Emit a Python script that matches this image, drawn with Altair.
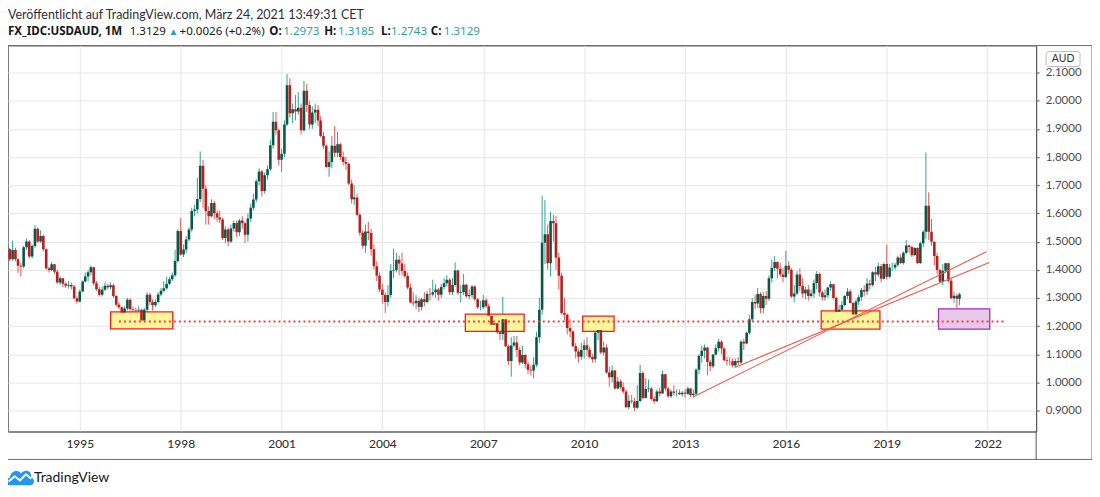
import altair as alt
import pandas as pd

# ---------------- data (monthly USD/AUD candles, Dec 1992 - Mar 2021) ----------------
first_open = 1.473
close = [
    1.437,
    1.470, 1.437, 1.414, 1.411, 1.480, 1.500, 1.447, 1.484, 1.545, 1.500, 1.520, 1.473,  # 1993
    1.405, 1.399, 1.419, 1.393, 1.355, 1.370, 1.350, 1.343, 1.346, 1.340, 1.299, 1.287,  # 1994
    1.323, 1.358, 1.376, 1.391, 1.409, 1.352, 1.331, 1.311, 1.329, 1.343, 1.338, 1.345,  # 1995
    1.307, 1.276, 1.267, 1.248, 1.262, 1.293, 1.260, 1.257, 1.255, 1.258, 1.220, 1.258,  # 1996
    1.311, 1.285, 1.274, 1.285, 1.312, 1.325, 1.334, 1.350, 1.366, 1.380, 1.431, 1.537,  # 1997
    1.454, 1.472, 1.507, 1.543, 1.608, 1.614, 1.651, 1.769, 1.687, 1.608, 1.590, 1.637,  # 1998
    1.600, 1.585, 1.578, 1.513, 1.543, 1.500, 1.546, 1.566, 1.533, 1.575, 1.565, 1.524,  # 1999
    1.582, 1.620, 1.649, 1.714, 1.749, 1.679, 1.735, 1.757, 1.842, 1.925, 1.895, 1.790,  # 2000
    1.812, 1.915, 2.055, 1.955, 1.970, 1.962, 1.975, 1.895, 2.035, 1.985, 1.915, 1.958,  # 2001
    1.968, 1.930, 1.875, 1.840, 1.765, 1.782, 1.840, 1.815, 1.845, 1.800, 1.782, 1.776,  # 2002
    1.706, 1.650, 1.656, 1.595, 1.531, 1.485, 1.536, 1.530, 1.473, 1.412, 1.379, 1.330,  # 2003
    1.310, 1.285, 1.310, 1.396, 1.399, 1.435, 1.422, 1.395, 1.378, 1.337, 1.284, 1.281,  # 2004
    1.290, 1.268, 1.295, 1.285, 1.314, 1.312, 1.320, 1.330, 1.311, 1.339, 1.352, 1.364,  # 2005
    1.320, 1.346, 1.397, 1.318, 1.321, 1.347, 1.306, 1.310, 1.340, 1.295, 1.267, 1.267,  # 2006
    1.292, 1.270, 1.237, 1.205, 1.210, 1.178, 1.172, 1.224, 1.128, 1.076, 1.131, 1.142,  # 2007
    1.115, 1.071, 1.097, 1.064, 1.045, 1.042, 1.063, 1.160, 1.258, 1.496, 1.526, 1.423,  # 2008
    1.573, 1.565, 1.443, 1.379, 1.246, 1.240, 1.193, 1.181, 1.128, 1.110, 1.091, 1.115,  # 2009
    1.132, 1.116, 1.090, 1.082, 1.176, 1.186, 1.106, 1.124, 1.035, 1.018, 1.042, 0.978,  # 2010
    1.003, 0.983, 0.968, 0.912, 0.935, 0.932, 0.910, 0.934, 1.033, 0.945, 0.977, 0.978,  # 2011
    0.941, 0.933, 0.968, 0.961, 1.029, 0.978, 0.951, 0.968, 0.963, 0.963, 0.958, 0.963,  # 2012
    0.960, 0.978, 0.955, 0.960, 1.045, 1.094, 1.112, 1.124, 1.072, 1.057, 1.099, 1.121,  # 2013
    1.144, 1.120, 1.079, 1.076, 1.075, 1.060, 1.076, 1.071, 1.144, 1.138, 1.176, 1.224,  # 2014
    1.285, 1.280, 1.314, 1.263, 1.307, 1.297, 1.370, 1.406, 1.427, 1.403, 1.383, 1.374,  # 2015
    1.414, 1.400, 1.305, 1.316, 1.383, 1.342, 1.316, 1.330, 1.307, 1.316, 1.353, 1.385,  # 2016
    1.319, 1.302, 1.309, 1.337, 1.348, 1.300, 1.251, 1.258, 1.275, 1.307, 1.323, 1.282,  # 2017
    1.241, 1.287, 1.302, 1.328, 1.323, 1.351, 1.346, 1.391, 1.383, 1.412, 1.368, 1.420,  # 2018
    1.375, 1.408, 1.408, 1.418, 1.443, 1.424, 1.460, 1.486, 1.481, 1.451, 1.477, 1.424,  # 2019
    1.494, 1.535, 1.627, 1.535, 1.499, 1.449, 1.399, 1.357, 1.396, 1.423, 1.361, 1.299,  # 2020
    1.308, 1.2973, 1.3129,                                                               # 2021
]
high = [
    1.478,
    1.503, 1.478, 1.440, 1.425, 1.485, 1.510, 1.505, 1.490, 1.559, 1.550, 1.540, 1.525,
    1.475, 1.410, 1.428, 1.420, 1.400, 1.378, 1.372, 1.355, 1.360, 1.355, 1.345, 1.305,
    1.330, 1.362, 1.390, 1.398, 1.415, 1.410, 1.360, 1.340, 1.340, 1.355, 1.350, 1.355,
    1.350, 1.310, 1.285, 1.270, 1.270, 1.300, 1.298, 1.268, 1.265, 1.270, 1.262, 1.265,
    1.320, 1.318, 1.295, 1.295, 1.320, 1.335, 1.360, 1.375, 1.375, 1.390, 1.470, 1.545,
    1.584, 1.490, 1.520, 1.550, 1.620, 1.630, 1.726, 1.820, 1.790, 1.700, 1.625, 1.650,
    1.645, 1.610, 1.610, 1.585, 1.555, 1.550, 1.560, 1.575, 1.575, 1.580, 1.590, 1.570,
    1.600, 1.635, 1.670, 1.720, 1.760, 1.755, 1.745, 1.770, 1.860, 1.960, 1.960, 1.900,
    1.830, 1.930, 2.095, 2.080, 1.990, 2.020, 2.030, 1.990, 2.070, 2.060, 2.000, 1.980,
    1.990, 1.985, 1.945, 1.890, 1.845, 1.820, 1.875, 1.910, 1.890, 1.850, 1.820, 1.800,
    1.780, 1.720, 1.700, 1.670, 1.600, 1.540, 1.560, 1.570, 1.545, 1.490, 1.430, 1.390,
    1.350, 1.320, 1.345, 1.420, 1.475, 1.460, 1.450, 1.460, 1.420, 1.390, 1.350, 1.320,
    1.310, 1.300, 1.300, 1.320, 1.325, 1.335, 1.365, 1.350, 1.335, 1.350, 1.370, 1.380,
    1.370, 1.370, 1.426, 1.400, 1.345, 1.385, 1.350, 1.330, 1.345, 1.345, 1.300, 1.290,
    1.310, 1.300, 1.280, 1.240, 1.230, 1.220, 1.190, 1.303, 1.230, 1.135, 1.160, 1.165,
    1.165, 1.125, 1.130, 1.100, 1.075, 1.060, 1.090, 1.180, 1.300, 1.663, 1.647, 1.560,
    1.606, 1.594, 1.590, 1.460, 1.390, 1.300, 1.245, 1.225, 1.185, 1.140, 1.120, 1.140,
    1.150, 1.160, 1.125, 1.100, 1.234, 1.225, 1.190, 1.145, 1.135, 1.055, 1.060, 1.045,
    1.020, 1.010, 1.000, 0.975, 0.955, 0.955, 0.945, 0.990, 1.063, 1.040, 1.015, 1.010,
    0.985, 0.950, 0.975, 0.980, 1.042, 1.030, 0.985, 0.975, 0.990, 0.975, 0.975, 0.970,
    0.975, 0.985, 0.980, 0.975, 1.050, 1.100, 1.130, 1.135, 1.125, 1.080, 1.100, 1.135,
    1.155, 1.150, 1.125, 1.090, 1.090, 1.085, 1.085, 1.090, 1.150, 1.155, 1.180, 1.240,
    1.300, 1.310, 1.335, 1.320, 1.320, 1.325, 1.380, 1.436, 1.448, 1.430, 1.425, 1.405,
    1.467, 1.430, 1.405, 1.345, 1.395, 1.405, 1.370, 1.340, 1.345, 1.330, 1.365, 1.395,
    1.390, 1.325, 1.330, 1.340, 1.360, 1.350, 1.305, 1.275, 1.290, 1.310, 1.335, 1.330,
    1.285, 1.295, 1.310, 1.335, 1.345, 1.370, 1.365, 1.395, 1.410, 1.425, 1.420, 1.425,
    1.489, 1.420, 1.425, 1.425, 1.450, 1.455, 1.465, 1.505, 1.490, 1.485, 1.480, 1.480,
    1.500, 1.540, 1.816, 1.675, 1.580, 1.500, 1.460, 1.405, 1.420, 1.425, 1.425, 1.370,
    1.322, 1.316, 1.3185,
]
low = [
    1.430,
    1.432, 1.430, 1.388, 1.376, 1.405, 1.470, 1.440, 1.440, 1.478, 1.495, 1.495, 1.465,
    1.400, 1.390, 1.395, 1.385, 1.350, 1.345, 1.338, 1.335, 1.333, 1.330, 1.295, 1.280,
    1.283, 1.320, 1.355, 1.360, 1.380, 1.345, 1.325, 1.305, 1.305, 1.325, 1.330, 1.330,
    1.300, 1.270, 1.260, 1.240, 1.242, 1.255, 1.255, 1.248, 1.245, 1.240, 1.205, 1.215,
    1.250, 1.275, 1.255, 1.268, 1.280, 1.305, 1.320, 1.330, 1.345, 1.360, 1.375, 1.425,
    1.450, 1.445, 1.460, 1.500, 1.535, 1.590, 1.600, 1.640, 1.620, 1.560, 1.560, 1.585,
    1.580, 1.570, 1.565, 1.505, 1.495, 1.484, 1.495, 1.535, 1.515, 1.520, 1.545, 1.495,
    1.500, 1.570, 1.610, 1.640, 1.700, 1.660, 1.670, 1.720, 1.750, 1.830, 1.880, 1.770,
    1.747, 1.800, 1.910, 1.940, 1.920, 1.930, 1.950, 1.880, 1.890, 1.960, 1.900, 1.900,
    1.920, 1.910, 1.870, 1.830, 1.760, 1.730, 1.760, 1.800, 1.800, 1.790, 1.770, 1.755,
    1.700, 1.635, 1.630, 1.590, 1.520, 1.475, 1.460, 1.505, 1.450, 1.400, 1.360, 1.320,
    1.280, 1.246, 1.270, 1.300, 1.370, 1.390, 1.380, 1.380, 1.370, 1.330, 1.280, 1.270,
    1.260, 1.250, 1.255, 1.270, 1.280, 1.290, 1.305, 1.300, 1.290, 1.300, 1.330, 1.340,
    1.310, 1.310, 1.340, 1.310, 1.284, 1.310, 1.300, 1.295, 1.300, 1.290, 1.260, 1.255,
    1.260, 1.265, 1.235, 1.200, 1.195, 1.172, 1.150, 1.150, 1.125, 1.062, 1.020, 1.125,
    1.090, 1.060, 1.065, 1.050, 1.030, 1.025, 1.015, 1.055, 1.140, 1.240, 1.420, 1.400,
    1.376, 1.500, 1.400, 1.330, 1.240, 1.220, 1.170, 1.160, 1.125, 1.085, 1.070, 1.080,
    1.085, 1.095, 1.085, 1.070, 1.070, 1.150, 1.100, 1.095, 1.030, 0.985, 1.000, 0.975,
    0.975, 0.975, 0.960, 0.910, 0.905, 0.925, 0.898, 0.905, 0.930, 0.940, 0.945, 0.965,
    0.935, 0.925, 0.930, 0.950, 0.960, 0.970, 0.945, 0.945, 0.955, 0.950, 0.955, 0.950,
    0.945, 0.955, 0.948, 0.946, 0.955, 1.030, 1.070, 1.085, 1.025, 1.040, 1.050, 1.095,
    1.110, 1.100, 1.075, 1.060, 1.060, 1.053, 1.055, 1.060, 1.065, 1.115, 1.135, 1.170,
    1.215, 1.260, 1.265, 1.245, 1.245, 1.275, 1.290, 1.355, 1.395, 1.370, 1.375, 1.355,
    1.370, 1.385, 1.300, 1.285, 1.310, 1.325, 1.300, 1.295, 1.290, 1.300, 1.300, 1.330,
    1.305, 1.290, 1.290, 1.300, 1.325, 1.295, 1.245, 1.240, 1.238, 1.270, 1.295, 1.280,
    1.230, 1.235, 1.275, 1.290, 1.305, 1.310, 1.330, 1.340, 1.360, 1.375, 1.355, 1.365,
    1.365, 1.370, 1.395, 1.400, 1.410, 1.420, 1.418, 1.455, 1.460, 1.445, 1.450, 1.420,
    1.420, 1.480, 1.510, 1.505, 1.485, 1.415, 1.385, 1.355, 1.345, 1.390, 1.355, 1.295,
    1.283, 1.249, 1.2743,
]
assert len(close) == len(high) == len(low)

# drawings on the chart
box_start = ["1995-12-02", "2006-06-20", "2009-12-16", "2017-01-19"]
box_end = ["1997-10-07", "2008-03-20", "2010-11-22", "2018-10-19"]
box_top = [1.250, 1.242, 1.235, 1.254]
box_bottom = [1.190, 1.181, 1.181, 1.189]

zone_start = ["2020-07-16"]
zone_end = ["2022-01-24"]
zone_top = [1.261]
zone_bottom = [1.189]

support_from = ["1996-03-01"]
support_to = ["2022-07-01"]
support_level = [1.216]

trend_from = ["2013-03-28", "2014-06-24"]
trend_from_price = [0.9485, 1.0533]
trend_to = ["2021-12-19", "2022-01-18"]
trend_to_price = [1.464, 1.426]

year_ticks = [1995, 1998, 2001, 2004, 2007, 2010, 2013, 2016, 2019, 2022]
price_ticks = [0.9, 1.0, 1.1, 1.2, 1.3, 1.4, 1.5, 1.6, 1.7, 1.8, 1.9, 2.0, 2.1]

# ---------------- frames ----------------
dates = pd.date_range("1992-12-01", periods=len(close), freq="MS")
opens = [first_open] + close[:-1]
df = pd.DataFrame({"date": dates, "open": opens, "high": high, "low": low, "close": close})


def ts(s):
    return [d + "T00:00:00" for d in s]


boxes = pd.DataFrame({"a": ts(box_start), "b": ts(box_end), "top": box_top, "bottom": box_bottom})
zone = pd.DataFrame({"a": ts(zone_start), "b": ts(zone_end), "top": zone_top, "bottom": zone_bottom})
support = pd.DataFrame({"a": ts(support_from), "b": ts(support_to), "p": support_level})
trends = pd.DataFrame({"a": ts(trend_from), "pa": trend_from_price, "b": ts(trend_to), "pb": trend_to_price})

FONT = "Lato"
UP_WICK, DOWN_WICK = "#26a69a", "#ef5350"
UP_BODY, DOWN_BODY = "#0b5647", "#b51f1f"

xscale = alt.Scale(domain=[alt.DateTime(year=1992, month=11, date=12),
                           alt.DateTime(year=2023, month=6, date=12)], nice=False)
yscale = alt.Scale(domain=[0.8257, 2.1956], nice=False, zero=False)

xaxis = alt.Axis(values=[alt.DateTime(year=y, month=1, date=1) for y in year_ticks],
                 format="%Y", title=None, ticks=False, labelPadding=7, labelFontSize=12,
                 labelColor="#333333", domainColor="#555555", gridColor="#e6e6e6",
                 labelFont=FONT, labelFontWeight=500, grid=True)
yaxis = alt.Axis(values=price_ticks, format=".4f", title=None, orient="right", tickSize=3,
                 labelPadding=6, labelFontSize=11.5, labelColor="#4a4a4a", domainColor="#555555",
                 tickColor="#555555", gridColor="#e6e6e6", labelFont=FONT, grid=True,
                 labelOverlap=False, tickCount=13)


def X(field):
    return alt.X(field, scale=xscale, axis=xaxis)


def Y(field):
    return alt.Y(field, scale=yscale, axis=yaxis)


cond = "datum.close >= datum.open"

base = alt.Chart(df)
wicks = base.mark_rule(strokeWidth=1, clip=True).encode(
    x=X("date:T"), y=Y("low:Q"), y2="high:Q",
    color=alt.condition(cond, alt.value(UP_WICK), alt.value(DOWN_WICK)),
)
bodies = base.mark_rule(strokeWidth=2.6, clip=True).encode(
    x=X("date:T"), y=Y("open:Q"), y2="close:Q",
    color=alt.condition(cond, alt.value(UP_BODY), alt.value(DOWN_BODY)),
)

box_layer = alt.Chart(boxes).mark_rect(fill="#fff59a", fillOpacity=1, stroke="#ff1a1a",
                                       strokeWidth=1.3, clip=True).encode(
    x=X("a:T"), x2="b:T", y=Y("top:Q"), y2="bottom:Q")
zone_layer = alt.Chart(zone).mark_rect(fill="#e8c8ea", fillOpacity=1, stroke="#a032b4",
                                       strokeWidth=1.3, clip=True).encode(
    x=X("a:T"), x2="b:T", y=Y("top:Q"), y2="bottom:Q")
support_layer = alt.Chart(support).mark_rule(color="#ff3b3b", strokeWidth=2, strokeDash=[2, 3],
                                             clip=True).encode(
    x=X("a:T"), x2="b:T", y=Y("p:Q"))
trend_layer = alt.Chart(trends).mark_rule(color="#f2554d", strokeWidth=1.1, clip=True).encode(
    x=X("a:T"), x2="b:T", y=Y("pa:Q"), y2="pb:Q")

one = alt.Data(values=[{"k": 0}])


def txt(text, x, y, size=12, color="#131722", weight="normal", align="left", font=FONT):
    return alt.Chart(one).mark_text(text=text, align=align, baseline="middle", fontSize=size,
                                    color=color, fontWeight=weight, font=font).encode(
        x=alt.value(x), y=alt.value(y))


TEAL = "#26a69a"
F2 = "Noto Sans"
S2 = 11.6
L1, L2 = -31, -14
header = [
    txt("Veröffentlicht auf TradingView.com, März 24, 2021 13:49:31 CET", 0, L1, size=12.5, color="#2a2e39"),
    txt("FX_IDC:USDAUD, 1M", 0, L2, size=S2, weight="bold", font=F2),
    txt("1.3129", 122, L2, size=S2, font=F2),
    txt("▲", 161, L2, size=10, color=TEAL, font=F2),
    txt("+0.0026 (+0.2%)", 172, L2, size=S2, font=F2),
    txt("O:", 262, L2, size=S2, weight="bold", font=F2),
    txt("1.2973", 276, L2, size=S2, color=TEAL, font=F2),
    txt("H:", 317, L2, size=S2, weight="bold", font=F2),
    txt("1.3185", 331, L2, size=S2, color=TEAL, font=F2),
    txt("L:", 374, L2, size=S2, weight="bold", font=F2),
    txt("1.2743", 384, L2, size=S2, color=TEAL, font=F2),
    txt("C:", 424, L2, size=S2, weight="bold", font=F2),
    txt("1.3129", 437, L2, size=S2, color=TEAL, font=F2),
]

frame = alt.Chart(one).mark_rect(fillOpacity=0, stroke="#6b6b6b", strokeWidth=1).encode(
    x=alt.value(-1), x2=alt.value(1087), y=alt.value(0), y2=alt.value(415))
sep = alt.Chart(one).mark_rule(color="#555555", strokeWidth=1).encode(
    x=alt.value(1031), y=alt.value(387), y2=alt.value(415))
aud_box = alt.Chart(one).mark_rect(fill="white", stroke="#b8bbc4", strokeWidth=1, cornerRadius=3).encode(
    x=alt.value(1041), x2=alt.value(1075), y=alt.value(6), y2=alt.value(21))
aud_txt = txt("AUD", 1058, 13.5, size=10.5, color="#333333", align="center")

cloud = ("M -0.78 0.55 C -1.05 0.55 -1.08 0.05 -0.72 0.02 C -0.68 -0.45 -0.15 -0.62 0.08 -0.28 "
         "C 0.32 -0.66 0.9 -0.45 0.78 0.0 C 1.08 0.05 1.05 0.55 0.78 0.55 Z")
wave = "M -0.8 0.3 L -0.38 -0.08 L 0.0 0.22 L 0.42 -0.22 L 0.8 0.1"
logo = alt.Chart(one).mark_point(shape=cloud, filled=True, color="#2196f3", opacity=1, size=800).encode(
    x=alt.value(12), y=alt.value(433))
logo_line = alt.Chart(one).mark_point(shape=wave, filled=False, color="white", opacity=1,
                                      strokeWidth=2, size=800).encode(x=alt.value(12), y=alt.value(433))
footer = txt("TradingView", 26, 434, size=14, color="#131722")

chart = alt.layer(
    wicks, box_layer, zone_layer, bodies, support_layer, trend_layer,
    frame, sep, aud_box, aud_txt, logo, logo_line, footer, *header,
).properties(
    width=1031, height=387, autosize="none",
    padding={"left": 0, "top": 37, "right": 56, "bottom": 65},
    background="white",
).configure_view(stroke="#7a7a7a")

chart.save("out.html", embed_options={"renderer": "svg", "actions": False})
